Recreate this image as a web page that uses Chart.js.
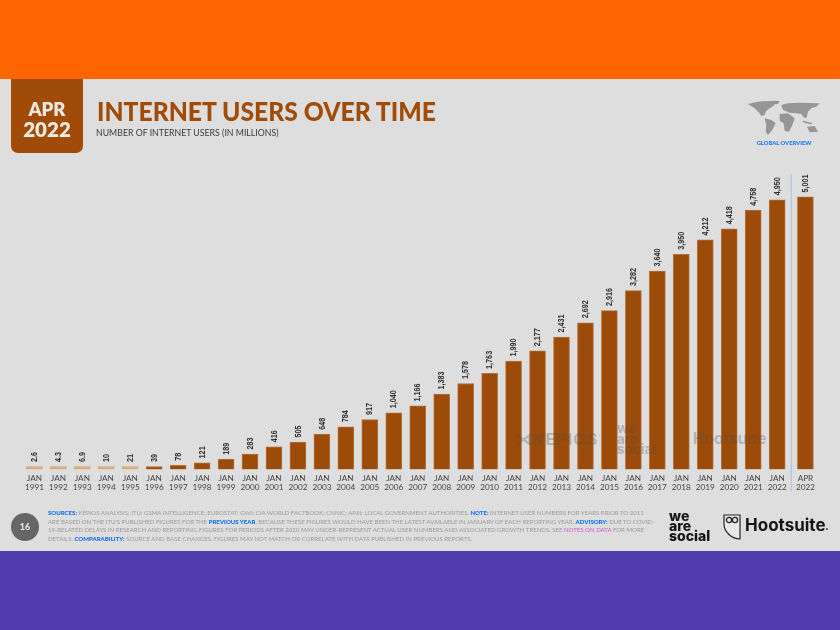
<!DOCTYPE html>
<html>
<head>
<meta charset="utf-8">
<title>Internet users over time</title>
<script src="https://cdn.jsdelivr.net/npm/chart.js@4"></script>
<style>
  html, body { margin: 0; padding: 0; }
  #page { position: relative; width: 840px; height: 630px; overflow: hidden; background: #dedede; font-family: Lato, sans-serif; }
  #page div, #page svg, #page canvas { position: absolute; }
  .txt { white-space: nowrap; }
  #foot div { left: 48px; font-size: 6.05px; line-height: 8px; color: #9c9c9c; white-space: nowrap; }
  #foot b { color: #0f6ff0; font-weight: 900; }
  #foot i { color: #d257c8; font-style: normal; }
</style>
</head>
<body>
<div id="page">
  <div style="left:0;top:0;width:840px;height:79px;background:#fc6500"></div>
  <div style="left:0;top:551px;width:840px;height:79px;background:#513cae"></div>

  <canvas id="myChart" width="840" height="472" style="left:0;top:79px"></canvas>

  <!-- watermark lies faintly over the bars -->
  <div class="txt" style="left:515px;top:429px;font:700 16.5px Inter;letter-spacing:.8px;color:rgba(80,80,80,.3)">⋊KEPIOS</div>
  <div class="txt" style="left:617px;top:423px;font:700 13.5px/10.5px Inter;color:rgba(80,80,80,.3)">we<br>are<br>social</div>
  <div class="txt" style="left:693px;top:429px;font:700 15.5px Inter;color:rgba(80,80,80,.3)">Hootsuite</div>

  <!-- header -->
  <div style="left:11px;top:79px;width:72px;height:74px;background:#a04c08;border-radius:0 0 7px 7px"></div>
  <div class="txt" style="left:11px;width:72px;top:98px;text-align:center;font:800 18.5px Lato;color:#efe8e0">APR</div>
  <div class="txt" style="left:11px;width:72px;top:117px;text-align:center;font:800 20.5px Lato;color:#efe8e0">2022</div>
  <div class="txt" style="left:97px;top:95px;font:900 26px Lato;color:#a04c08;transform:scaleX(.95);transform-origin:left">INTERNET USERS OVER TIME</div>
  <div class="txt" style="left:96px;top:127px;font:400 8.75px Lato;color:#3c3c3c">NUMBER OF INTERNET USERS (IN MILLIONS)</div>

  <!-- world map -->
  <svg style="left:748px;top:100px" width="74" height="36" viewBox="445 30 222 108" fill="#969696">
    <polygon points="445,42 470,36 490,34 530,33 525,45 510,55 500,62 495,75 485,78 478,68 465,55 455,48"/>
    <polygon points="520,32 540,33 535,42 525,42"/>
    <polygon points="495,85 515,90 528,100 518,120 505,135 498,125 500,105"/>
    <polygon points="545,45 565,40 600,38 660,40 650,50 635,55 625,65 620,85 610,80 605,72 590,70 570,68 550,60"/>
    <polygon points="540,72 565,70 585,85 578,105 568,125 555,122 552,100 540,92"/>
    <polygon points="622,110 645,108 655,125 630,127"/>
    <polygon points="610,92 640,100 632,103 610,97"/>
  </svg>
  <div class="txt" style="left:740px;width:88px;top:139px;text-align:center;font:900 5.8px Lato;color:#1b79f2">GLOBAL OVERVIEW</div>

  <!-- footer -->
  <div style="left:11px;top:513px;width:28px;height:28px;border-radius:50%;background:#666"></div>
  <div class="txt" style="left:11px;width:28px;top:521px;text-align:center;font:700 9px Lato;color:#eee">16</div>
  <div id="foot" style="left:0;top:0">
    <div style="top:509px"><b>SOURCES:</b> KEPIOS ANALYSIS; ITU; GSMA INTELLIGENCE; EUROSTAT; GWI; CIA WORLD FACTBOOK; CNNIC; APJII; LOCAL GOVERNMENT AUTHORITIES. <b>NOTE:</b> INTERNET USER NUMBERS FOR YEARS PRIOR TO 2011</div>
    <div style="top:517.5px">ARE BASED ON THE ITU'S PUBLISHED FIGURES FOR THE <b>PREVIOUS YEAR</b>, BECAUSE THESE FIGURES WOULD HAVE BEEN THE LATEST AVAILABLE IN JANUARY OF EACH REPORTING YEAR. <b>ADVISORY:</b> DUE TO COVID-</div>
    <div style="top:526px">19-RELATED DELAYS IN RESEARCH AND REPORTING, FIGURES FOR PERIODS AFTER 2020 MAY UNDER-REPRESENT ACTUAL USER NUMBERS AND ASSOCIATED GROWTH TRENDS. SEE <i>NOTES ON DATA</i> FOR MORE</div>
    <div style="top:534.5px">DETAILS. <b>COMPARABILITY:</b> SOURCE AND BASE CHANGES. FIGURES MAY NOT MATCH OR CORRELATE WITH DATA PUBLISHED IN PREVIOUS REPORTS.</div>
  </div>

  <!-- logos -->
  <div class="txt" style="left:669px;top:511px;font:800 14px/10px Inter;color:#151515">we<br>are<br>social</div>
  <svg style="left:723px;top:514px" width="18" height="26" viewBox="0 0 18 26">
    <path d="M1 1H17V25C9 25 1 18 1 10Z" fill="#e8e8e8" stroke="#222" stroke-width="1.2"/>
    <circle cx="6" cy="6" r="2.6" fill="none" stroke="#222" stroke-width="1.3"/>
    <circle cx="12" cy="6" r="2.6" fill="none" stroke="#222" stroke-width="1.3"/>
  </svg>
  <div class="txt" style="left:745px;top:515px;font:700 17px Inter;color:#151515">Hootsuite<span style="font-size:6px">•</span></div>
</div>

<script>
// values (millions of users)
var periods = ['JAN 1991','JAN 1992','JAN 1993','JAN 1994','JAN 1995','JAN 1996','JAN 1997','JAN 1998','JAN 1999','JAN 2000','JAN 2001','JAN 2002','JAN 2003','JAN 2004','JAN 2005','JAN 2006','JAN 2007','JAN 2008','JAN 2009','JAN 2010','JAN 2011','JAN 2012','JAN 2013','JAN 2014','JAN 2015','JAN 2016','JAN 2017','JAN 2018','JAN 2019','JAN 2020','JAN 2021','JAN 2022','APR 2022'];
var users = [2.6,4.3,6.9,10,21,39,78,121,189,283,416,505,648,784,917,1040,1166,1383,1578,1763,1990,2177,2431,2692,2916,3282,3640,3950,4212,4418,4758,4950,5001];

// the APR bar is set a little apart from the yearly ones
var APR_GAP = 1.18;
var xPos = periods.map(function(p, i){ return i < periods.length - 1 ? i : i - 1 + APR_GAP; });

var fills = users.map(function(v){ return v < 30 ? '#dba97f' : '#9c4b08'; });
var edges = users.map(function(v){ return v < 30 ? '#dba97f' : '#b5703a'; });

// value labels, turned on their side above each bar
var valueLabels = {
    id: 'valueLabels',
    afterDatasetsDraw: function(chart){
        var c = chart.ctx;
        chart.getDatasetMeta(0).data.forEach(function(bar, i){
            c.save();
            c.translate(bar.x, bar.y - 4.5);
            c.rotate(-Math.PI / 2);
            c.scale(0.76, 1); // no condensed face installed, squeeze it
            c.font = 'bold 9.5px "Liberation Sans"';
            c.fillStyle = '#2e2e2e';
            c.textAlign = 'left';
            c.textBaseline = 'middle';
            c.fillText(users[i].toLocaleString('en-US'), 0, 0);
            c.restore();
        });
    }
};

// thin rule that splits off the APR bar
var divider = {
    id: 'divider',
    afterDatasetsDraw: function(chart){
        var c = chart.ctx, a = chart.chartArea, n = xPos.length;
        var x = chart.scales.x.getPixelForValue((xPos[n - 2] + xPos[n - 1]) / 2);
        c.save();
        c.strokeStyle = '#a9c4e2';
        c.lineWidth = 1;
        c.beginPath();
        c.moveTo(x, a.top);
        c.lineTo(x, a.bottom + 21.5);
        c.stroke();
        c.restore();
    }
};

var ctx = document.getElementById('myChart').getContext('2d');
var myChart = new Chart(ctx, {
    type: 'bar',
    data: {
        datasets: [{
            data: users.map(function(v, i){ return { x: xPos[i], y: v }; }),
            backgroundColor: fills,
            borderColor: edges,
            borderWidth: 1,
            barThickness: 16,
            minBarLength: 3
        }]
    },
    options: {
        responsive: false,
        animation: false,
        layout: { padding: { left: 22.4, right: 22.6, top: 95.1, bottom: 0 } },
        plugins: { legend: { display: false }, tooltip: { enabled: false } },
        scales: {
            x: {
                type: 'linear',
                offset: false,
                min: -0.5,
                max: xPos[xPos.length - 1] + 0.5,
                grid: { display: false, drawTicks: false },
                border: { display: false },
                afterFit: function(axis){
                    axis.height = 81.5;
                    axis.paddingLeft = 0;
                    axis.paddingRight = 0;
                },
                afterBuildTicks: function(axis){
                    axis.ticks = xPos.map(function(v){ return { value: v }; });
                },
                ticks: {
                    autoSkip: false,
                    maxRotation: 0,
                    padding: 5,
                    color: '#444',
                    font: { family: 'Lato', size: 8.2, lineHeight: 1.03 },
                    callback: function(value, i){ return periods[i].split(' '); }
                }
            },
            y: { display: false, min: 0, max: 5420 }
        }
    },
    plugins: [valueLabels, divider]
});
</script>
</body>
</html>
